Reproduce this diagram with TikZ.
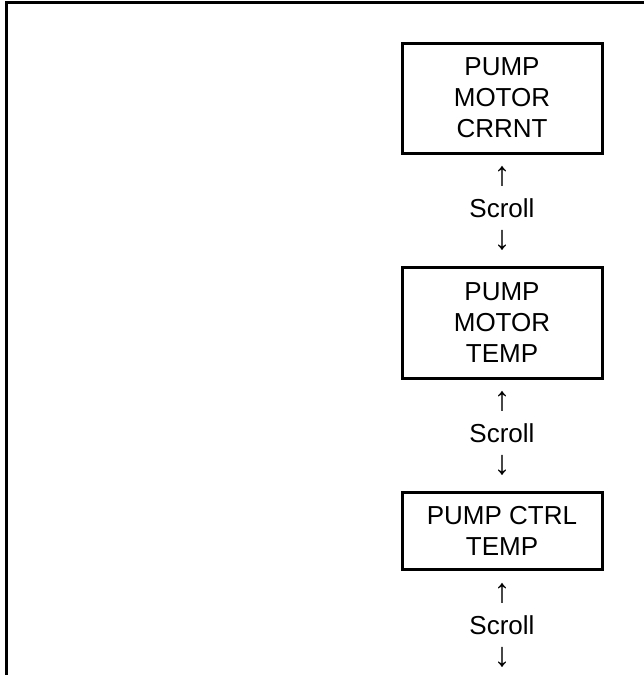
\documentclass[tikz,border=0pt]{standalone}
\usepackage{fontspec}
\setmainfont{Liberation Sans}
\usetikzlibrary{positioning, calc}

\newcommand{\uparr}{{\fontsize{34}{32}\selectfont ↑}}
\newcommand{\downarr}{{\fontsize{34}{32}\selectfont ↓}}

\begin{document}
\begin{tikzpicture}[
      x=1pt, y=-1pt,
      node_box/.style={rectangle, draw, line width=3pt, minimum width=200pt, align=center, inner sep=0pt, font=\fontsize{26}{31}\selectfont},
      node_scroll/.style={align=center, inner sep=0pt, font=\fontsize{26}{32}\selectfont},
      frame_line/.style={line width=3pt},
      node distance=111pt
    ]
      \useasboundingbox (0,0) rectangle (644,675);
      \draw[frame_line] (6,675) -- (6,2) -- (644,2);

      \node[node_box, minimum height=110pt] (crrnt) at (502,98) {PUMP\\MOTOR\\CRRNT};
      \node[node_box, minimum height=111pt, below=of crrnt] (mtemp) {PUMP\\MOTOR\\TEMP};
      \node[node_box, minimum height=77pt, below=of mtemp] (ctemp) {PUMP CTRL\\TEMP};

      \node[node_scroll] (scroll1) at ($(crrnt.south)!0.5!(mtemp.north)+(0,-2)$) {\uparr\\Scroll\\\downarr};
      \node[node_scroll] (scroll2) at ($(mtemp.south)!0.5!(ctemp.north)+(0,-2)$) {\uparr\\Scroll\\\downarr};
      \node[node_scroll] (scroll3) at ($(ctemp.south)+(0,55)$) {\uparr\\Scroll\\\downarr};
    \end{tikzpicture}
\end{document}
